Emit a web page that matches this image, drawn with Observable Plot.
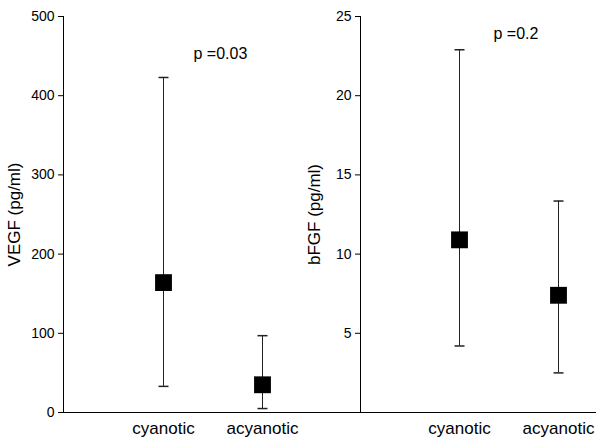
<!DOCTYPE html>
<html>
<head>
<meta charset="utf-8">
<script src="https://cdn.jsdelivr.net/npm/d3@7"></script>
<script src="https://cdn.jsdelivr.net/npm/@observablehq/plot@0.6"></script>
<style>
  html, body { margin: 0; padding: 0; background: #fff; }
  #wrap { display: flex; width: 596px; height: 440px; }
  svg { font-family: "Liberation Sans", Arial, sans-serif; }
</style>
</head>
<body>
<div id="wrap"></div>
<script>
const categories = ["cyanotic", "acyanotic"];

const vegfMid = [164, 35];
const vegfLow = [33, 5];
const vegfHigh = [423, 97];
const vegfTicks = [0, 100, 200, 300, 400, 500];
const vegfP = "p =0.03";
const vegfPy = 453;

const bfgfMid = [10.9, 7.4];
const bfgfLow = [4.2, 2.5];
const bfgfHigh = [22.9, 13.35];
const bfgfTicks = [5, 10, 15, 20, 25];
const bfgfP = "p =0.2";
const bfgfPy = 23.9;

const capSymbol = {
  draw(context, size) {
    const w = Math.sqrt(size / Math.PI);
    context.moveTo(-w, 0);
    context.lineTo(w, 0);
  }
};

function panel({width, marginLeft, xRange, yDomain, ticks, label, labelOffset, mid, low, high, pText, pY, pDx, baseInset}) {
  const rows = categories.map((c, i) => ({cat: c, mid: mid[i], low: low[i], high: high[i]}));
  return Plot.plot({
    width,
    height: 440,
    marginLeft,
    marginRight: 0,
    marginTop: 16,
    marginBottom: 28,
    style: {fontFamily: '"Liberation Sans", Arial, sans-serif', color: "#000", background: "#fff", overflow: "visible"},
    x: {type: "point", domain: categories, range: xRange, padding: 0},
    y: {domain: yDomain},
    marks: [
      Plot.axisY({ticks, tickSize: 5, tickPadding: 4, fontSize: 14, label: null, tickFormat: d => String(d)}),
      Plot.axisY({ticks: [], tickSize: 0, label, labelAnchor: "center", labelArrow: "none", labelOffset, fontSize: 17}),
      Plot.axisX({tickSize: 0, tickPadding: 9, fontSize: 17, label: null}),
      Plot.frame({anchor: "left", stroke: "#000"}),
      Plot.ruleY([0], {stroke: "#000", insetLeft: baseInset}),
      Plot.ruleX(rows, {x: "cat", y1: "low", y2: "high", stroke: "#222", strokeWidth: 1}),
      Plot.dot(rows, {x: "cat", y: "low", symbol: capSymbol, r: 5, stroke: "#222", fill: "none"}),
      Plot.dot(rows, {x: "cat", y: "high", symbol: capSymbol, r: 5, stroke: "#222", fill: "none"}),
      Plot.dot(rows, {x: "cat", y: "mid", symbol: "square", r: 9.5, fill: "#000", stroke: "none"}),
      Plot.text([pText], {x: () => categories[0], y: () => pY, text: d => d, textAnchor: "start", dx: pDx, fontSize: 16, fill: "#000"})
    ]
  });
}

const left = panel({
  width: 300, marginLeft: 63, xRange: [163, 262], yDomain: [0, 500], ticks: vegfTicks,
  label: "VEGF (pg/ml)", labelOffset: 56, mid: vegfMid, low: vegfLow, high: vegfHigh,
  pText: vegfP, pY: vegfPy, pDx: 30, baseInset: 0
});
const right = panel({
  width: 296, marginLeft: 60, xRange: [159, 258], yDomain: [0, 25], ticks: bfgfTicks,
  label: "bFGF (pg/ml)", labelOffset: 53, mid: bfgfMid, low: bfgfLow, high: bfgfHigh,
  pText: bfgfP, pY: bfgfPy, pDx: 34, baseInset: -60
});
document.getElementById("wrap").append(left, right);
</script>
</body>
</html>
